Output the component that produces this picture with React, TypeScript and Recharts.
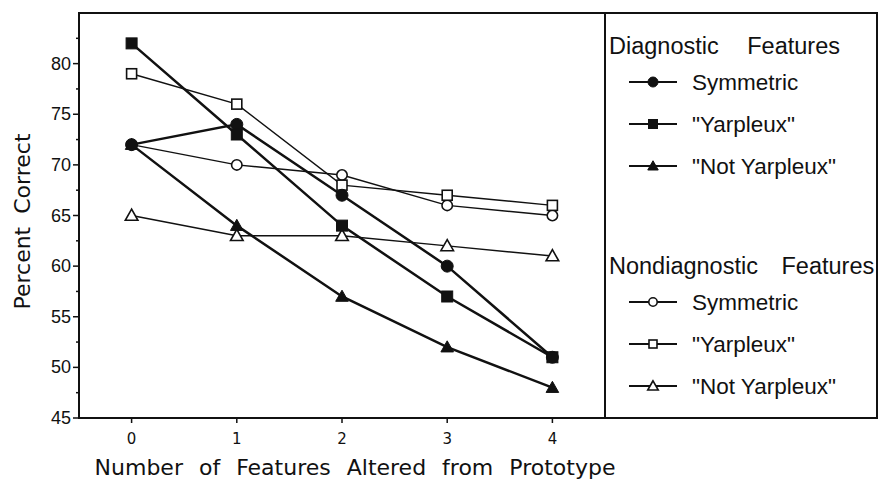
import { Label, Line, LineChart, ReferenceArea, XAxis, YAxis } from "recharts";

// feature changes from prototype
const xValues = [0, 1, 2, 3, 4];

// diagnostic features (filled markers)
const diagSymmetric = [72, 74, 67, 60, 51];
const diagYarpleux = [82, 73, 64, 57, 51];
const diagNotYarpleux = [72, 64, 57, 52, 48];

// nondiagnostic features (open markers)
const nondiagSymmetric = [72, 70, 69, 66, 65];
const nondiagYarpleux = [79, 76, 68, 67, 66];
const nondiagNotYarpleux = [65, 63, 63, 62, 61];

const xTicks = [0, 1, 2, 3, 4];
const yMajorTicks = [45, 50, 55, 60, 65, 70, 75, 80];
const yMinorTicks = [47.5, 52.5, 57.5, 62.5, 67.5, 72.5, 77.5, 82.5];

type Shape = "circle" | "square" | "triangle";

interface SeriesDef {
    key: string;
    label: string;
    shape: Shape;
    filled: boolean;
    values: number[];
}

const diagnostic: SeriesDef[] = [
    { key: "dSym", label: "Symmetric", shape: "circle", filled: true, values: diagSymmetric },
    { key: "dYar", label: "\"Yarpleux\"", shape: "square", filled: true, values: diagYarpleux },
    { key: "dNot", label: "\"Not Yarpleux\"", shape: "triangle", filled: true, values: diagNotYarpleux },
];

const nondiagnostic: SeriesDef[] = [
    { key: "nSym", label: "Symmetric", shape: "circle", filled: false, values: nondiagSymmetric },
    { key: "nYar", label: "\"Yarpleux\"", shape: "square", filled: false, values: nondiagYarpleux },
    { key: "nNot", label: "\"Not Yarpleux\"", shape: "triangle", filled: false, values: nondiagNotYarpleux },
];

const rows = xValues.map((x, i) => {
    const row: Record<string, number> = { x };
    [...diagnostic, ...nondiagnostic].forEach((s) => {
        row[s.key] = s.values[i];
    });
    return row;
});

// draw order: open series underneath, then filled triangle, circle, square
const drawOrder: SeriesDef[] = [
    ...nondiagnostic,
    diagnostic[2],
    diagnostic[0],
    diagnostic[1],
];

const W = 878;
const H = 480;
const INK = "#111";

function Marker({ cx, cy, shape, filled, size = 12 }: { cx: number; cy: number; shape: Shape; filled: boolean; size?: number }) {
    const fill = filled ? INK : "#fff";
    const sw = filled ? 1 : 1.6;
    const h = size / 2;
    if (shape === "circle") {
        return <circle cx={cx} cy={cy} r={h - (filled ? 0 : 0.8)} fill={fill} stroke={INK} strokeWidth={sw} />;
    }
    if (shape === "square") {
        const s = size - (filled ? 1 : 2);
        return <rect x={cx - s / 2} y={cy - s / 2} width={s} height={s} fill={fill} stroke={INK} strokeWidth={sw} />;
    }
    const pts = `${cx},${cy - h * 1.05} ${cx - h * 1.05},${cy + h * 0.8} ${cx + h * 1.05},${cy + h * 0.8}`;
    return <polygon points={pts} fill={fill} stroke={INK} strokeWidth={sw} strokeLinejoin="miter" />;
}

function YTick(props: any) {
    const { x, y, payload } = props;
    const v = payload.value as number;
    const major = yMajorTicks.includes(v);
    return (
        <g>
            <line x1={x - (major ? 6 : 3)} x2={x} y1={y} y2={y} stroke={INK} strokeWidth={1.5} />
            {major && (
                <text
                    x={x - 8}
                    y={y}
                    textAnchor="end"
                    dominantBaseline="central"
                    fontFamily="Liberation Sans, Arial, sans-serif"
                    fontSize={18}
                    fill={INK}
                >
                    {v}
                </text>
            )}
        </g>
    );
}

function XTitle(props: any) {
    const { x, y, width } = props.viewBox;
    return (
        <text
            x={x + width / 2 + 13}
            y={y + 49}
            textAnchor="middle"
            dominantBaseline="central"
            fontFamily="DejaVu Sans, sans-serif"
            fontSize={22}
            wordSpacing={9}
            fill={INK}
        >
            Number of Features Altered from Prototype
        </text>
    );
}

function YTitle(props: any) {
    const { x, y, height } = props.viewBox;
    const cx = x + 22;
    const cy = y + height / 2 + 6;
    return (
        <text
            x={cx}
            y={cy}
            transform={`rotate(-90, ${cx}, ${cy})`}
            textAnchor="middle"
            dominantBaseline="central"
            fontFamily="DejaVu Sans, sans-serif"
            fontSize={22}
            wordSpacing={6}
            fill={INK}
        >
            Percent Correct
        </text>
    );
}

const legendFont = {
    fontFamily: "Liberation Sans, Arial, sans-serif",
    fill: INK,
};

function LegendGroup({ title, items, top, titleGap }: { title: string; items: SeriesDef[]; top: number; titleGap: number }) {
    return (
        <g>
            <text x={3} y={top} dominantBaseline="central" fontSize={23.5} wordSpacing={titleGap} {...legendFont}>
                {title}
            </text>
            {items.map((s, i) => {
                const cy = top + 36 + i * 42;
                return (
                    <g key={s.key}>
                        <line x1={23} x2={71} y1={cy} y2={cy} stroke={INK} strokeWidth={2} />
                        <Marker cx={47} cy={cy} shape={s.shape} filled={s.filled} size={10} />
                        <text x={86} y={cy} dominantBaseline="central" fontSize={22.5} {...legendFont}>
                            {s.label}
                        </text>
                    </g>
                );
            })}
        </g>
    );
}

function SideLegend() {
    return (
        <div
            style={{
                position: "absolute",
                left: 604,
                top: 12,
                width: 274,
                height: 407,
                border: "2px solid #111",
                boxSizing: "border-box",
                background: "#fff",
            }}
        >
            <svg width={270} height={403} style={{ display: "block", overflow: "visible" }}>
                <LegendGroup title="Diagnostic Features" items={diagnostic} top={32} titleGap={22} />
                <LegendGroup title="Nondiagnostic Features" items={nondiagnostic} top={252} titleGap={17} />
            </svg>
        </div>
    );
}

export default function App() {
    return (
        <div style={{ position: "absolute", left: 0, top: 0, width: W, height: H, background: "#fff" }}>
            <LineChart
                width={W}
                height={H}
                data={rows}
                margin={{ top: 13, right: 273, left: 0, bottom: 0 }}
            >
                <ReferenceArea
                    x1={-0.5}
                    x2={4.5}
                    y1={45}
                    y2={85}
                    fill="none"
                    stroke={INK}
                    strokeWidth={2}
                    ifOverflow="visible"
                />
                <XAxis
                    dataKey="x"
                    type="number"
                    domain={[-0.5, 4.5]}
                    ticks={xTicks}
                    interval={0}
                    height={62}
                    tickSize={5}
                    tickMargin={10}
                    tickLine={{ stroke: INK, strokeWidth: 1.5 }}
                    axisLine={{ stroke: INK, strokeWidth: 2 }}
                    tick={{ fill: INK, fontSize: 15, fontFamily: "DejaVu Sans, sans-serif" }}
                >
                    <Label content={XTitle} />
                </XAxis>
                <YAxis
                    type="number"
                    domain={[45, 85]}
                    ticks={[...yMajorTicks, ...yMinorTicks].sort((a, b) => a - b)}
                    interval={0}
                    width={79}
                    tickSize={0}
                    tickMargin={0}
                    tickLine={false}
                    axisLine={{ stroke: INK, strokeWidth: 2 }}
                    tick={YTick}
                >
                    <Label content={YTitle} />
                </YAxis>
                {drawOrder.map((s) => (
                    <Line
                        key={s.key}
                        type="linear"
                        dataKey={s.key}
                        stroke={INK}
                        strokeWidth={s.filled ? 2.5 : 1.5}
                        isAnimationActive={false}
                        activeDot={false}
                        dot={(p: any) => (
                            <Marker
                                key={`${s.key}-${p.index}`}
                                cx={p.cx}
                                cy={p.cy}
                                shape={s.shape}
                                filled={s.filled}
                            />
                        )}
                    />
                ))}
            </LineChart>
            <SideLegend />
        </div>
    );
}
